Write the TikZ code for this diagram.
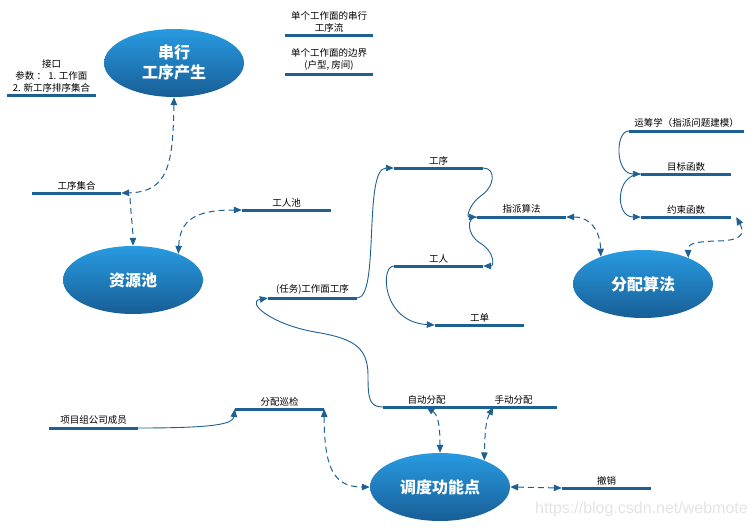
\documentclass[tikz,border=0pt]{standalone}
\usepackage{fontspec}
\newfontfamily\cjk{Noto Sans CJK SC}
\newfontfamily\wmfont{Liberation Sans}
\usetikzlibrary{shapes.geometric,arrows.meta}
\definecolor{lblue}{RGB}{30,96,145}
\definecolor{etop}{RGB}{40,155,225}
\definecolor{ebot}{RGB}{24,94,150}
\begin{document}
\begin{tikzpicture}[x=1pt,y=-1pt,
  lab/.style={anchor=south, inner xsep=0pt, inner ysep=3pt, align=center,
    font=\cjk\fontsize{9.5}{12}\selectfont, text=black, minimum width=89pt},
  bar/.style={draw=lblue, line width=3pt},
  bub/.style={ellipse, minimum width=140pt, minimum height=68pt, inner sep=0pt,
    top color=etop, bottom color=ebot, draw=none, text=white, align=center,
    font=\cjk\bfseries\fontsize{16}{20}\selectfont},
  conn/.style={draw=lblue, line width=0.9pt, -{Triangle[length=8pt,width=6.5pt]}},
  dconn/.style={draw=lblue, line width=1pt, dash pattern=on 6pt off 4pt,
    {Triangle[length=8pt,width=6.5pt]}-{Triangle[length=8pt,width=6.5pt]}},
  dsingle/.style={draw=lblue, line width=1pt, dash pattern=on 6pt off 4pt,
    -{Triangle[length=8pt,width=6.5pt]}}
]
\useasboundingbox (0,0) rectangle (756,528);

% ellipses
\node[bub] (S)  at (174,63)  {串行\\工序产生};
\node[bub] (RP) at (133,280) {资源池};
\node[bub] (FA) at (643,284) {分配算法};
\node[bub] (DD) at (440,487) {调度功能点};

% underlined labels
\node[lab] (jk)  at (51.5,95)  {接口\\参数 ： 1. 工作面\\2. 新工序排序集合};
\node[lab, minimum width=88pt] (cxl) at (329,35) {单个工作面的串行\\工序流};
\node[lab, minimum width=88pt] (bj)  at (329,74) {单个工作面的边界\\(户型, 房间)};
\node[lab] (gx)  at (76.5,193)  {工序集合};
\node[lab] (wp)  at (286.5,210) {工人池};
\node[lab] (gs)  at (438.5,168) {工序};
\node[lab] (zp)  at (521.5,217) {指派算法};
\node[lab] (gr)  at (438.5,266) {工人};
\node[lab] (gd)  at (479.5,325) {工单};
\node[lab] (gw)  at (312.5,298) {(任务)工作面工序};
\node[lab, minimum width=115pt] (yc) at (686.5,131) {运筹学（指派问题建模）};
\node[lab, minimum width=90pt] (mb) at (686,174) {目标函数};
\node[lab, minimum width=90pt] (ys) at (686,217) {约束函数};
\node[lab] (xm)  at (93.5,428)  {项目组公司成员};
\node[lab] (fx)  at (279.5,409) {分配巡检};
\node[lab, minimum width=87pt] (zd) at (426.5,407) {自动分配};
\node[lab, minimum width=87pt] (sd) at (513.5,407) {手动分配};
\node[lab] (cx)  at (606.5,488) {撤销};

\foreach \n in {jk,cxl,bj,gx,wp,gs,zp,gr,gd,gw,yc,mb,ys,xm,fx,zd,sd,cx}
  \draw[bar] (\n.south west) -- (\n.south east);

\coordinate (gxe) at (130,198);

% solid connectors
\draw[conn] (gw.south east) .. controls (380,298) and (363,168) .. (gs.south west);
\draw[conn] (zd.south west) .. controls (369,407) and (368,398) .. (368,375)
  .. controls (368,345) and (350,338) .. (315,332)
  .. controls (270,324) and (246,302) .. (gw.south west);
\draw[conn] (gs.south east) .. controls (496,168) and (495,186) .. (482,195)
  .. controls (470,203) and (466,217) .. (zp.south west);
\draw[conn] (zp.south west) .. controls (466,217) and (467,235) .. (480,243)
  .. controls (495,252) and (494,266) .. (gr.south east);
\draw[conn] (gr.south west) .. controls (380,266) and (382,322) .. (gd.south west);
\draw[conn] (yc.south west) .. controls (615,131) and (615,174) .. (mb.south west);
\draw[conn] (mb.south west) .. controls (615,174) and (615,217) .. (ys.south west);
\draw[conn] (xm.south east) .. controls (215,428) and (233,424) .. (fx.south west);

% dashed connectors
\draw[dconn] (S.south) .. controls (173,165) and (168,192) .. (gx.south east);
\draw[dsingle] (gxe) .. controls (131,215) and (133,230) .. (RP.north);
\draw[dconn] (RP.30) .. controls (180,220) and (195,210) .. (wp.south west);
\draw[dconn] (zp.south east) .. controls (590,217) and (600,230) .. (FA.147);
\draw[dconn] ([xshift=5pt]ys.south east) .. controls (746,235) and (740,241) .. (715,241)
  .. controls (690,242) and (688,245) .. (FA.30);
\draw[dconn] (fx.south east) .. controls (324,470) and (335,487) .. (DD.west);
\draw[dconn] (zd.south) .. controls (438,415) and (440,425) .. (DD.north);
\draw[dconn] ([xshift=-20pt]sd.south) .. controls (486,420) and (485,430) .. (DD.31);
\draw[dconn] (DD.east) -- (cx.south west);

% watermark
\node[font=\wmfont\fontsize{16}{18}\selectfont, text=black!11, anchor=east, inner sep=0pt] (wm) at (748,509) {https://blog.csdn.net/webmote};
\end{tikzpicture}
\end{document}
